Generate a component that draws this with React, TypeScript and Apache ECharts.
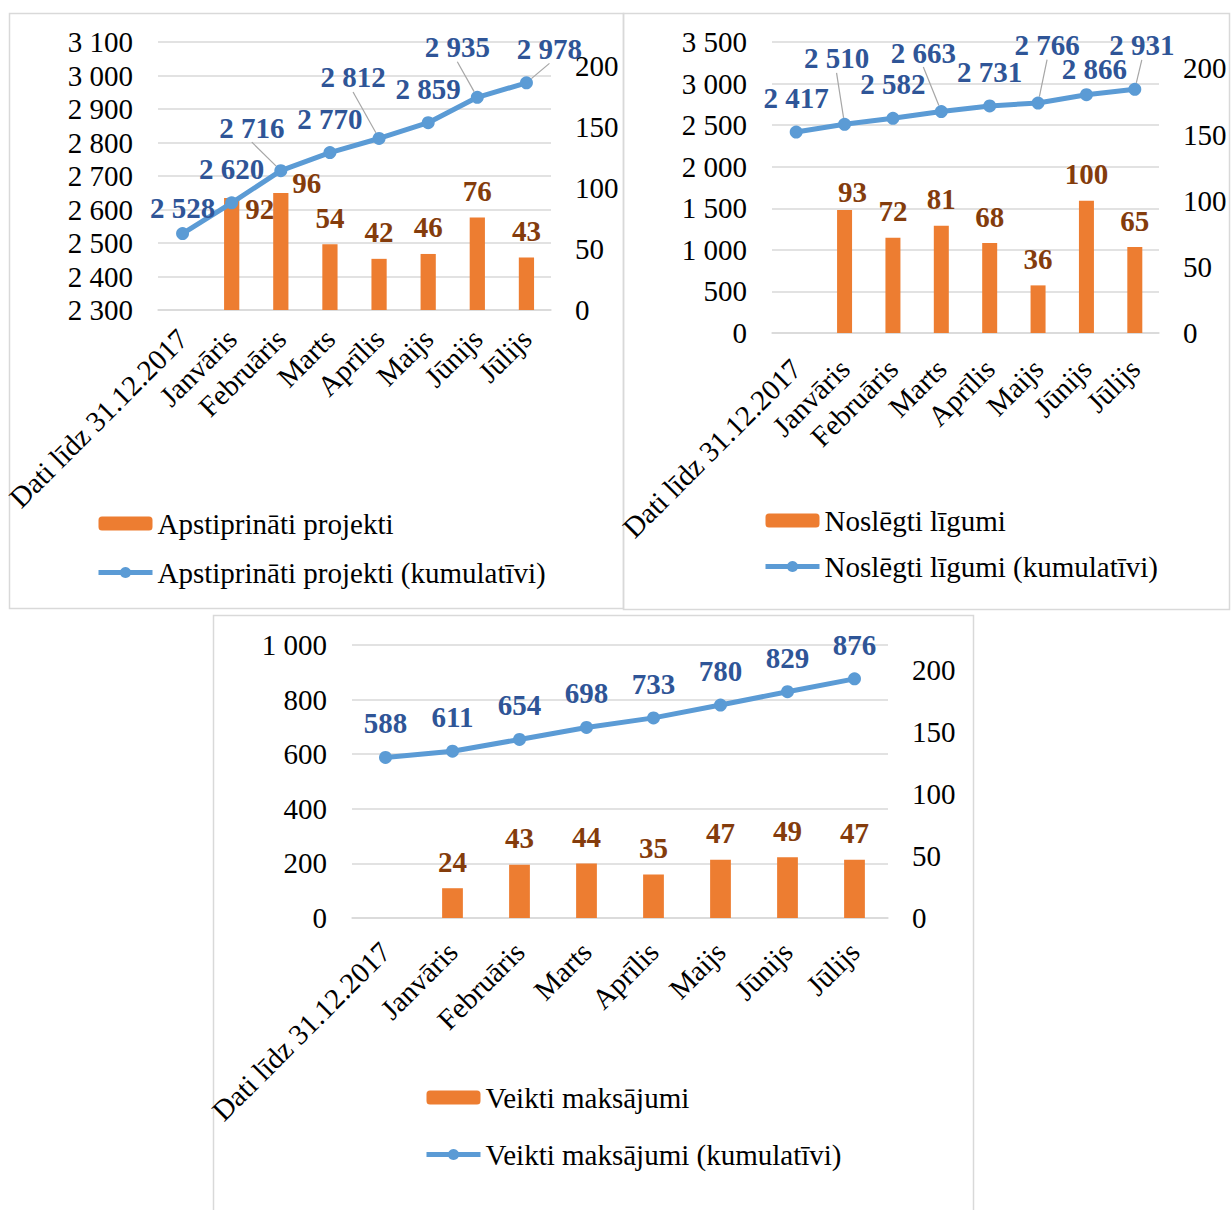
import React, { useEffect, useRef } from "react";
import * as echarts from "echarts";

const categories = [
  "Dati līdz 31.12.2017",
  "Janvāris",
  "Februāris",
  "Marts",
  "Aprīlis",
  "Maijs",
  "Jūnijs",
  "Jūlijs",
];

// Chart 1 – approved projects
const projectsName = "Apstiprināti projekti";
const projectsCumName = "Apstiprināti projekti (kumulatīvi)";
const projectsMonthly = [null, 92, 96, 54, 42, 46, 76, 43];
const projectsCumulative = [2528, 2620, 2716, 2770, 2812, 2859, 2935, 2978];
const projectsLeftTicks = { min: 2300, max: 3100, interval: 100 };

// Chart 2 – signed contracts
const contractsName = "Noslēgti līgumi";
const contractsCumName = "Noslēgti līgumi (kumulatīvi)";
const contractsMonthly = [null, 93, 72, 81, 68, 36, 100, 65];
const contractsCumulative = [2417, 2510, 2582, 2663, 2731, 2766, 2866, 2931];
const contractsLeftTicks = { min: 0, max: 3500, interval: 500 };

// Chart 3 – payments made
const paymentsName = "Veikti maksājumi";
const paymentsCumName = "Veikti maksājumi (kumulatīvi)";
const paymentsMonthly = [null, 24, 43, 44, 35, 47, 49, 47];
const paymentsCumulative = [588, 611, 654, 698, 733, 780, 829, 876];
const paymentsLeftTicks = { min: 0, max: 1000, interval: 200 };

const rightTicks = { min: 0, max: 220, interval: 50 };

// label layout tweaks (offsets from default position, leader lines)
const projectsLineOffsets = [[0, 8], [0, 0], [-29, -9], [0, 0], [-26, -27], [0, 0], [-20, -16], [23, 0]];
const projectsLineLeaders = [false, false, true, false, true, false, true, true];
const projectsBarOffsets = [[0, 0], [28, 38], [26, 16], [0, 0], [0, 0], [0, 0], [0, 0], [0, 0]];

const contractsLineOffsets = [[0, 0], [-8, -32], [0, 0], [-18, -25], [0, 0], [9, -24], [8, 8], [7, -10]];
const contractsLineLeaders = [false, true, false, true, false, true, false, true];
const contractsBarOffsets = [[0, 0], [8, 9], [0, 0], [0, 0], [0, 0], [0, 0], [0, 0], [0, 0]];

const zeroOffsets = [[0, 0], [0, 0], [0, 0], [0, 0], [0, 0], [0, 0], [0, 0], [0, 0]];
const noLeaders = [false, false, false, false, false, false, false, false];

const FONT = '"Liberation Serif", "Times New Roman", serif';
const FS = 29;
const ORANGE = "#ed7d31";
const BLUE = "#5b9bd5";
const BLUE_LABEL = "#2f5597";
const BROWN_LABEL = "#843c0c";
const GRID_GRAY = "#d9d9d9";
const LEADER_GRAY = "#a6a6a6";

const fmt = (v: number) =>
  String(Math.round(v)).replace(/\B(?=(\d{3})+(?!\d))/g, " ");

const grids = [
  { left: 158, top: 42, width: 393, height: 268 },
  { left: 772, top: 42, width: 387, height: 291 },
  { left: 352, top: 645, width: 536, height: 273 },
];
const categoryMargins = [24, 31, 29];

const legends = [
  { left: 96, top: 509, gap: 20, bar: projectsName, line: projectsCumName },
  { left: 763, top: 506, gap: 17, bar: contractsName, line: contractsCumName },
  { left: 424, top: 1083, gap: 28, bar: paymentsName, line: paymentsCumName },
];

const panels = [
  { x: 9.5, y: 13.5, width: 614, height: 595 },
  { x: 623.5, y: 13.5, width: 606, height: 596 },
  { x: 213.5, y: 615.5, width: 760, height: 610 },
];

function buildOption() {
  const charts = [
    {
      barName: projectsName,
      lineName: projectsCumName,
      bars: projectsMonthly,
      line: projectsCumulative,
      left: projectsLeftTicks,
      lineOffsets: projectsLineOffsets,
      leaders: projectsLineLeaders,
      barOffsets: projectsBarOffsets,
    },
    {
      barName: contractsName,
      lineName: contractsCumName,
      bars: contractsMonthly,
      line: contractsCumulative,
      left: contractsLeftTicks,
      lineOffsets: contractsLineOffsets,
      leaders: contractsLineLeaders,
      barOffsets: contractsBarOffsets,
    },
    {
      barName: paymentsName,
      lineName: paymentsCumName,
      bars: paymentsMonthly,
      line: paymentsCumulative,
      left: paymentsLeftTicks,
      lineOffsets: zeroOffsets,
      leaders: noLeaders,
      barOffsets: zeroOffsets,
    },
  ];

  const tickText = { fontFamily: FONT, fontSize: FS, color: "#000" };

  const xAxis = charts.map((_, i) => ({
    type: "category",
    gridIndex: i,
    data: categories,
    boundaryGap: true,
    axisTick: { show: false },
    axisLine: { lineStyle: { color: GRID_GRAY, width: 1.5 } },
    axisLabel: { ...tickText, rotate: 45, margin: categoryMargins[i], interval: 0 },
  }));

  const yAxis: any[] = [];
  charts.forEach((c, i) => {
    yAxis.push({
      type: "value",
      gridIndex: i,
      position: "left",
      min: c.left.min,
      max: c.left.max,
      interval: c.left.interval,
      axisLine: { show: false },
      axisTick: { show: false },
      splitLine: { lineStyle: { color: GRID_GRAY, width: 1.5 } },
      axisLabel: { ...tickText, margin: 25, formatter: (v: number) => fmt(v) },
    });
    yAxis.push({
      type: "value",
      gridIndex: i,
      position: "right",
      min: rightTicks.min,
      max: rightTicks.max,
      interval: rightTicks.interval,
      axisLine: { show: false },
      axisTick: { show: false },
      splitLine: { show: false },
      axisLabel: {
        ...tickText,
        margin: 24,
        showMaxLabel: false,
        formatter: (v: number) => fmt(v),
      },
    });
  });

  const series: any[] = [];
  charts.forEach((c, i) => {
    series.push({
      type: "bar",
      name: c.barName,
      xAxisIndex: i,
      yAxisIndex: i * 2 + 1,
      barWidth: "31%",
      itemStyle: { color: ORANGE },
      label: {
        show: true,
        position: "top",
        distance: 12,
        fontFamily: FONT,
        fontSize: FS,
        lineHeight: FS,
        fontWeight: "bold",
        color: BROWN_LABEL,
        formatter: (p: any) => fmt(p.value),
      },
      data: c.bars.map((v, k) =>
        v == null ? "-" : { value: v, label: { offset: c.barOffsets[k] } }
      ),
    });
    const offs = c.lineOffsets;
    series.push({
      type: "line",
      name: c.lineName,
      xAxisIndex: i,
      yAxisIndex: i * 2,
      symbol: "circle",
      symbolSize: 13,
      lineStyle: { color: BLUE, width: 5 },
      itemStyle: { color: BLUE },
      z: 3,
      label: {
        show: true,
        position: "top",
        distance: 13,
        fontFamily: FONT,
        fontSize: FS,
        lineHeight: FS,
        fontWeight: "bold",
        color: BLUE_LABEL,
        formatter: (p: any) => fmt(p.value),
      },
      labelLayout: (params: any) => {
        const o = offs[params.dataIndex];
        if (!o || (o[0] === 0 && o[1] === 0)) return {};
        const r = params.labelRect;
        return {
          x: r.x + r.width / 2 + o[0],
          y: r.y + r.height / 2 + o[1],
          align: "center",
          verticalAlign: "middle",
        };
      },
      labelLine: { show: false, lineStyle: { color: LEADER_GRAY, width: 1.2 } },
      data: c.line.map((v, k) => ({
        value: v,
        labelLine: { show: c.leaders[k], lineStyle: { color: LEADER_GRAY, width: 1.2 } },
      })),
    });
  });

  const legend = legends.map((l) => ({
    orient: "vertical",
    left: l.left,
    top: l.top,
    itemGap: l.gap,
    itemWidth: 54,
    itemHeight: 14,
    padding: 0,
    data: [l.bar, l.line],
    lineStyle: { width: 5 },
    textStyle: { fontFamily: FONT, fontSize: FS, lineHeight: FS, color: "#000" },
  }));

  const graphic = panels.map((p) => ({
    type: "rect",
    silent: true,
    z: -10,
    shape: { x: p.x, y: p.y, width: p.width, height: p.height },
    style: { fill: "none", stroke: GRID_GRAY, lineWidth: 1.5 },
  }));

  return {
    animation: false,
    backgroundColor: "#ffffff",
    textStyle: { fontFamily: FONT },
    grid: grids,
    xAxis,
    yAxis,
    legend,
    series,
    graphic,
  };
}

export default function App() {
  const ref = useRef<HTMLDivElement>(null);
  useEffect(() => {
    if (!ref.current) return;
    const chart = echarts.init(ref.current, undefined, { renderer: "svg" });
    chart.setOption(buildOption() as any);
    return () => chart.dispose();
  }, []);
  return (
    <div
      ref={ref}
      style={{ position: "absolute", left: 0, top: 0, width: 1232, height: 1210 }}
    />
  );
}
